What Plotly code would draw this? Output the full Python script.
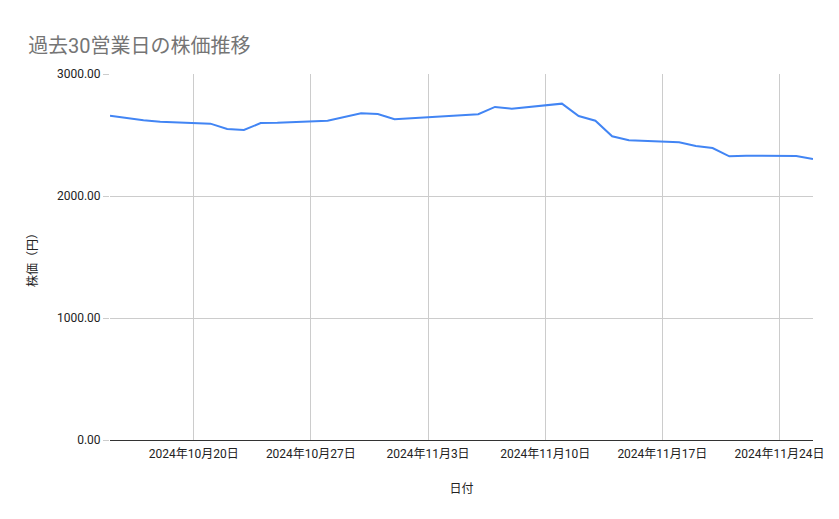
import plotly.graph_objects as go

# 営業日ごとの終値 (11/4 は振替休日)
dates = ["2024-10-15", "2024-10-16", "2024-10-17", "2024-10-18",
         "2024-10-21", "2024-10-22", "2024-10-23", "2024-10-24", "2024-10-25",
         "2024-10-28", "2024-10-29", "2024-10-30", "2024-10-31", "2024-11-01",
         "2024-11-05", "2024-11-06", "2024-11-07", "2024-11-08",
         "2024-11-11", "2024-11-12", "2024-11-13", "2024-11-14", "2024-11-15",
         "2024-11-18", "2024-11-19", "2024-11-20", "2024-11-21", "2024-11-22",
         "2024-11-25", "2024-11-26"]
prices = [2658, 2638, 2620, 2609,
          2593, 2549, 2541, 2598, 2600,
          2617, 2648, 2678, 2672, 2629,
          2662, 2670, 2730, 2716,
          2757, 2656, 2617, 2489, 2457,
          2440, 2410, 2393, 2325, 2330,
          2328, 2303]

tick_dates = ["2024-10-20", "2024-10-27", "2024-11-03", "2024-11-10", "2024-11-17", "2024-11-24"]
tick_labels = ["2024年10月20日", "2024年10月27日", "2024年11月3日",
               "2024年11月10日", "2024年11月17日", "2024年11月24日"]
y_ticks = [0, 1000, 2000, 3000]
y_labels = ["0.00", "1000.00", "2000.00", "3000.00"]

font_family = "Roboto, Noto Sans CJK JP, sans-serif"

fig = go.Figure()
fig.add_trace(go.Scatter(x=dates, y=prices, mode="lines",
                         line=dict(color="#4285F4", width=2), name="株価"))

# ページ側に8pxの余白があるので、その分ずらしておく
fig.update_layout(
    width=839, height=519,
    paper_bgcolor="white", plot_bgcolor="white",
    margin=dict(l=102, r=34, t=66, b=87),
    showlegend=False,
    font=dict(family=font_family, size=12, color="#222222"),
    title=dict(text="過去30営業日の株価推移", x=0.024, xanchor="left",
               y=0.927, yanchor="middle",
               font=dict(family=font_family, size=20, color="#757575")),
)

fig.update_xaxes(
    range=["2024-10-15", "2024-11-26"],
    tickvals=tick_dates, ticktext=tick_labels,
    showgrid=True, gridcolor="#cccccc", gridwidth=1,
    showline=True, linecolor="#333333", linewidth=1,
    ticks="outside", ticklen=3, tickcolor="rgba(0,0,0,0)",
    tickfont=dict(size=12, color="#222222"),
    title=dict(text="日付", font=dict(size=12, color="#222222"), standoff=24),
    zeroline=False,
)

fig.update_yaxes(
    range=[0, 3000],
    tickvals=y_ticks, ticktext=y_labels,
    showgrid=True, gridcolor="#cccccc", gridwidth=1,
    ticks="outside", ticklen=6, tickcolor="#cccccc",
    tickfont=dict(size=12, color="#222222"),
    title=dict(text="株価（円）", font=dict(size=12, color="#222222"), standoff=16),
    zeroline=False, showline=False,
)

fig.write_html("out.html")
